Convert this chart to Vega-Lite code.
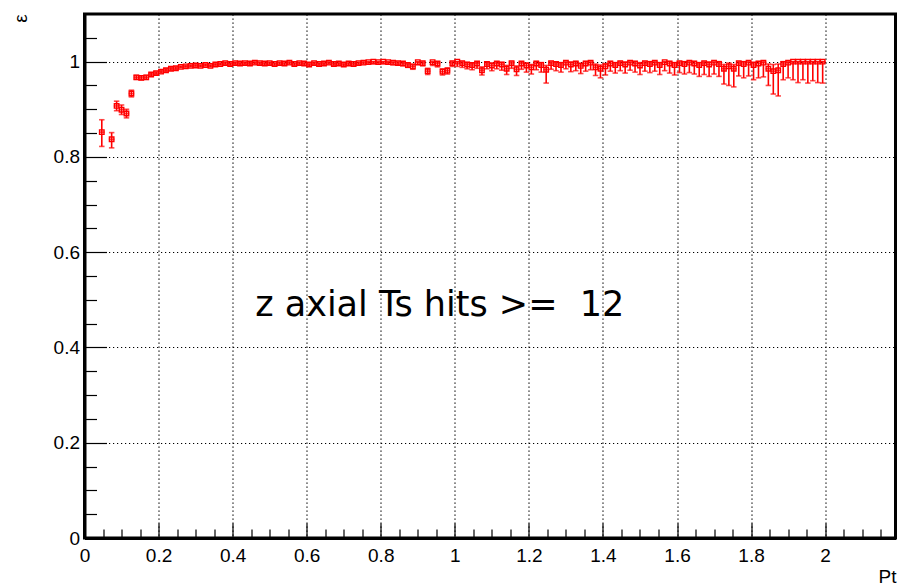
{
  "$schema": "https://vega.github.io/schema/vega-lite/v6.json",
  "width": 811,
  "height": 524,
  "autosize": {"type": "none"},
  "padding": {"left": 84.5, "top": 14, "right": 2.5, "bottom": 47},
  "background": "white",
  "config": {"view": {"stroke": "black", "strokeWidth": 3}, "font": "Liberation Sans"},
  "datasets": {
    "eff": [
      {"x":0.0467,"y":0.852,"lo":0.822,"hi":0.878},
      {"x":0.0733,"y":0.837,"lo":0.819,"hi":0.851},
      {"x":0.0867,"y":0.907,"lo":0.897,"hi":0.917},
      {"x":0.1,"y":0.899,"lo":0.889,"hi":0.909},
      {"x":0.1133,"y":0.891,"lo":0.882,"hi":0.9},
      {"x":0.1267,"y":0.933,"lo":0.926,"hi":0.94},
      {"x":0.14,"y":0.967,"lo":0.963,"hi":0.971},
      {"x":0.1533,"y":0.966,"lo":0.962,"hi":0.97},
      {"x":0.1667,"y":0.967,"lo":0.963,"hi":0.971},
      {"x":0.18,"y":0.973,"lo":0.97,"hi":0.976},
      {"x":0.1933,"y":0.976,"lo":0.973,"hi":0.979},
      {"x":0.2067,"y":0.979,"lo":0.976,"hi":0.982},
      {"x":0.22,"y":0.982,"lo":0.979,"hi":0.985},
      {"x":0.2333,"y":0.985,"lo":0.982,"hi":0.988},
      {"x":0.2467,"y":0.986,"lo":0.983,"hi":0.989},
      {"x":0.26,"y":0.989,"lo":0.987,"hi":0.991},
      {"x":0.2733,"y":0.99,"lo":0.988,"hi":0.992},
      {"x":0.2867,"y":0.991,"lo":0.989,"hi":0.993},
      {"x":0.3,"y":0.992,"lo":0.99,"hi":0.994},
      {"x":0.3133,"y":0.991,"lo":0.989,"hi":0.993},
      {"x":0.3267,"y":0.993,"lo":0.991,"hi":0.995},
      {"x":0.34,"y":0.991,"lo":0.989,"hi":0.993},
      {"x":0.3533,"y":0.994,"lo":0.992,"hi":0.996},
      {"x":0.3667,"y":0.995,"lo":0.993,"hi":0.997},
      {"x":0.38,"y":0.997,"lo":0.994,"hi":0.999},
      {"x":0.3933,"y":0.995,"lo":0.992,"hi":0.997},
      {"x":0.4067,"y":0.997,"lo":0.994,"hi":0.999},
      {"x":0.42,"y":0.996,"lo":0.993,"hi":0.998},
      {"x":0.4333,"y":0.997,"lo":0.994,"hi":0.999},
      {"x":0.4467,"y":0.996,"lo":0.993,"hi":0.998},
      {"x":0.46,"y":0.998,"lo":0.995,"hi":1},
      {"x":0.4733,"y":0.997,"lo":0.994,"hi":0.999},
      {"x":0.4867,"y":0.996,"lo":0.993,"hi":0.998},
      {"x":0.5,"y":0.997,"lo":0.994,"hi":0.999},
      {"x":0.5133,"y":0.995,"lo":0.992,"hi":0.997},
      {"x":0.5267,"y":0.997,"lo":0.994,"hi":0.999},
      {"x":0.54,"y":0.996,"lo":0.993,"hi":0.998},
      {"x":0.5533,"y":0.998,"lo":0.995,"hi":1},
      {"x":0.5667,"y":0.995,"lo":0.992,"hi":0.997},
      {"x":0.58,"y":0.997,"lo":0.994,"hi":0.999},
      {"x":0.5933,"y":0.996,"lo":0.993,"hi":0.998},
      {"x":0.6067,"y":0.994,"lo":0.991,"hi":0.996},
      {"x":0.62,"y":0.997,"lo":0.994,"hi":0.999},
      {"x":0.6333,"y":0.995,"lo":0.992,"hi":0.997},
      {"x":0.6467,"y":0.996,"lo":0.993,"hi":0.998},
      {"x":0.66,"y":0.998,"lo":0.995,"hi":1},
      {"x":0.6733,"y":0.995,"lo":0.992,"hi":0.997},
      {"x":0.6867,"y":0.996,"lo":0.993,"hi":0.998},
      {"x":0.7,"y":0.994,"lo":0.991,"hi":0.996},
      {"x":0.7133,"y":0.996,"lo":0.993,"hi":0.998},
      {"x":0.7267,"y":0.995,"lo":0.992,"hi":0.997},
      {"x":0.74,"y":0.997,"lo":0.994,"hi":0.999},
      {"x":0.7533,"y":0.998,"lo":0.995,"hi":1},
      {"x":0.7667,"y":0.999,"lo":0.996,"hi":1},
      {"x":0.78,"y":1,"lo":0.996,"hi":1},
      {"x":0.7933,"y":0.999,"lo":0.996,"hi":1},
      {"x":0.8067,"y":1,"lo":0.996,"hi":1},
      {"x":0.82,"y":0.999,"lo":0.995,"hi":1},
      {"x":0.8333,"y":0.998,"lo":0.994,"hi":1},
      {"x":0.8467,"y":0.997,"lo":0.993,"hi":1},
      {"x":0.86,"y":0.996,"lo":0.992,"hi":0.999},
      {"x":0.8733,"y":0.993,"lo":0.988,"hi":0.996},
      {"x":0.8867,"y":0.99,"lo":0.984,"hi":0.994},
      {"x":0.9,"y":0.999,"lo":0.993,"hi":1},
      {"x":0.9133,"y":0.997,"lo":0.991,"hi":1},
      {"x":0.9267,"y":0.98,"lo":0.973,"hi":0.986},
      {"x":0.94,"y":0.999,"lo":0.992,"hi":1},
      {"x":0.9533,"y":0.996,"lo":0.989,"hi":0.999},
      {"x":0.9667,"y":0.979,"lo":0.972,"hi":0.985},
      {"x":0.98,"y":0.981,"lo":0.974,"hi":0.987},
      {"x":0.9933,"y":0.997,"lo":0.99,"hi":1},
      {"x":1.0067,"y":1,"lo":0.99,"hi":1},
      {"x":1.02,"y":0.997,"lo":0.988,"hi":1},
      {"x":1.0333,"y":0.994,"lo":0.985,"hi":0.998},
      {"x":1.0467,"y":0.993,"lo":0.983,"hi":0.997},
      {"x":1.06,"y":0.996,"lo":0.986,"hi":0.999},
      {"x":1.0733,"y":0.982,"lo":0.972,"hi":0.989},
      {"x":1.0867,"y":0.995,"lo":0.985,"hi":0.999},
      {"x":1.1,"y":0.992,"lo":0.981,"hi":0.997},
      {"x":1.1133,"y":0.996,"lo":0.985,"hi":0.999},
      {"x":1.1267,"y":0.994,"lo":0.982,"hi":0.998},
      {"x":1.14,"y":0.985,"lo":0.973,"hi":0.992},
      {"x":1.1533,"y":0.997,"lo":0.986,"hi":1},
      {"x":1.1667,"y":0.984,"lo":0.971,"hi":0.991},
      {"x":1.18,"y":0.996,"lo":0.984,"hi":0.999},
      {"x":1.1933,"y":0.992,"lo":0.978,"hi":0.997},
      {"x":1.2067,"y":0.988,"lo":0.974,"hi":0.994},
      {"x":1.22,"y":0.996,"lo":0.983,"hi":1},
      {"x":1.2333,"y":0.993,"lo":0.978,"hi":0.998},
      {"x":1.2467,"y":0.983,"lo":0.955,"hi":0.992},
      {"x":1.26,"y":0.997,"lo":0.984,"hi":1},
      {"x":1.2733,"y":0.995,"lo":0.981,"hi":0.999},
      {"x":1.2867,"y":0.993,"lo":0.978,"hi":0.998},
      {"x":1.3,"y":0.998,"lo":0.985,"hi":1},
      {"x":1.3133,"y":0.994,"lo":0.979,"hi":0.999},
      {"x":1.3267,"y":0.996,"lo":0.981,"hi":1},
      {"x":1.34,"y":0.991,"lo":0.975,"hi":0.997},
      {"x":1.3533,"y":0.996,"lo":0.98,"hi":1},
      {"x":1.3667,"y":0.998,"lo":0.983,"hi":1},
      {"x":1.38,"y":0.988,"lo":0.971,"hi":0.995},
      {"x":1.3933,"y":0.985,"lo":0.966,"hi":0.993},
      {"x":1.4067,"y":0.99,"lo":0.972,"hi":0.996},
      {"x":1.42,"y":0.996,"lo":0.98,"hi":1},
      {"x":1.4333,"y":0.993,"lo":0.976,"hi":0.998},
      {"x":1.4467,"y":0.997,"lo":0.981,"hi":1},
      {"x":1.46,"y":0.994,"lo":0.976,"hi":0.999},
      {"x":1.4733,"y":0.998,"lo":0.982,"hi":1},
      {"x":1.4867,"y":0.996,"lo":0.978,"hi":1},
      {"x":1.5,"y":0.992,"lo":0.973,"hi":0.998},
      {"x":1.5133,"y":0.997,"lo":0.98,"hi":1},
      {"x":1.5267,"y":0.995,"lo":0.977,"hi":1},
      {"x":1.54,"y":0.998,"lo":0.98,"hi":1},
      {"x":1.5533,"y":0.993,"lo":0.973,"hi":0.998},
      {"x":1.5667,"y":0.999,"lo":0.981,"hi":1},
      {"x":1.58,"y":0.996,"lo":0.976,"hi":1},
      {"x":1.5933,"y":0.993,"lo":0.972,"hi":0.998},
      {"x":1.6067,"y":0.997,"lo":0.977,"hi":1},
      {"x":1.62,"y":0.995,"lo":0.974,"hi":1},
      {"x":1.6333,"y":0.998,"lo":0.977,"hi":1},
      {"x":1.6467,"y":0.996,"lo":0.974,"hi":1},
      {"x":1.66,"y":0.993,"lo":0.969,"hi":0.998},
      {"x":1.6733,"y":0.997,"lo":0.973,"hi":1},
      {"x":1.6867,"y":0.994,"lo":0.969,"hi":0.999},
      {"x":1.7,"y":0.998,"lo":0.974,"hi":1},
      {"x":1.7133,"y":0.995,"lo":0.969,"hi":1},
      {"x":1.7267,"y":0.985,"lo":0.953,"hi":0.994},
      {"x":1.74,"y":0.99,"lo":0.95,"hi":0.997},
      {"x":1.7533,"y":0.985,"lo":0.947,"hi":0.994},
      {"x":1.7667,"y":0.997,"lo":0.97,"hi":1},
      {"x":1.78,"y":0.995,"lo":0.966,"hi":1},
      {"x":1.7933,"y":0.998,"lo":0.97,"hi":1},
      {"x":1.8067,"y":0.993,"lo":0.962,"hi":0.999},
      {"x":1.82,"y":0.996,"lo":0.966,"hi":1},
      {"x":1.8333,"y":0.998,"lo":0.968,"hi":1},
      {"x":1.8467,"y":0.985,"lo":0.95,"hi":0.995},
      {"x":1.86,"y":0.98,"lo":0.932,"hi":0.994},
      {"x":1.8733,"y":0.982,"lo":0.928,"hi":0.995},
      {"x":1.8867,"y":0.995,"lo":0.962,"hi":1},
      {"x":1.9,"y":0.998,"lo":0.966,"hi":1},
      {"x":1.9133,"y":1,"lo":0.962,"hi":1},
      {"x":1.9267,"y":1,"lo":0.956,"hi":1},
      {"x":1.94,"y":1,"lo":0.962,"hi":1},
      {"x":1.9533,"y":1,"lo":0.955,"hi":1},
      {"x":1.9667,"y":1,"lo":0.96,"hi":1},
      {"x":1.98,"y":1,"lo":0.956,"hi":1},
      {"x":1.9933,"y":1,"lo":0.955,"hi":1}
    ]
  },
  "layer": [
    {
      "data": {"name": "eff"},
      "mark": {"type": "point", "opacity": 0},
      "encoding": {
        "x": {"field": "x", "type": "quantitative", "scale": {"domain": [0, 2.19], "nice": false, "zero": false},
          "axis": {"orient": "bottom", "values": [0.05,0.1,0.15,0.25,0.3,0.35,0.45,0.5,0.55,0.65,0.7,0.75,0.85,0.9,0.95,1.05,1.1,1.15,1.25,1.3,1.35,1.45,1.5,1.55,1.65,1.7,1.75,1.85,1.9,1.95,2.05,2.1,2.15],
            "domain": false, "labels": false, "grid": false, "ticks": true, "tickSize": -9, "tickWidth": 1.2, "tickColor": "black", "title": null}},
        "y": {"field": "y", "type": "quantitative", "scale": {"domain": [0, 1.1], "nice": false, "zero": false},
          "axis": {"orient": "left", "values": [0.05,0.1,0.15,0.25,0.3,0.35,0.45,0.5,0.55,0.65,0.7,0.75,0.85,0.9,0.95,1.05],
            "domain": false, "labels": false, "grid": false, "ticks": true, "tickSize": -12, "tickWidth": 1.2, "tickColor": "black", "title": null}}
      }
    },
    {
      "data": {"name": "eff"},
      "mark": {"type": "rule", "color": "#ff0000", "strokeWidth": 1.6},
      "encoding": {
        "x": {"field": "x", "type": "quantitative",
          "axis": {"orient": "bottom", "values": [0,0.2,0.4,0.6,0.8,1,1.2,1.4,1.6,1.8,2], "format": ".1~f",
            "domain": true, "domainWidth": 3, "domainColor": "black",
            "grid": true, "gridDash": [1.2, 2.8], "gridColor": "black", "gridWidth": 1.2, "gridOpacity": 1,
            "tickSize": -15, "tickWidth": 1.2, "tickColor": "black",
            "labelPadding": 23.5, "labelFontSize": 19, "labelFont": "Liberation Sans", "labelColor": "black", "labelFlush": false, "labelOverlap": false, "labelBaseline": "top",
            "title": "Pt", "titleFont": "Liberation Sans", "titleFontSize": 19, "titleFontWeight": "normal", "titleColor": "black",
            "titleAlign": "right", "titleBaseline": "top", "titleAnchor": "end", "titleX": 811.5, "titleY": 29}},
        "y": {"field": "lo", "type": "quantitative",
          "axis": {"orient": "left", "values": [0,0.2,0.4,0.6,0.8,1], "format": ".1~f",
            "domain": true, "domainWidth": 3, "domainColor": "black",
            "grid": true, "gridDash": [1.2, 2.8], "gridColor": "black", "gridWidth": 1.2, "gridOpacity": 1,
            "tickSize": -22, "tickWidth": 1.2, "tickColor": "black",
            "labelPadding": 27, "labelFontSize": 19, "labelFont": "Liberation Sans", "labelColor": "black", "labelFlush": false, "labelOverlap": false,
            "title": "ε", "titleFont": "Liberation Sans", "titleFontSize": 19, "titleFontWeight": "normal", "titleColor": "black",
            "titleAngle": -90, "titleAlign": "center", "titleBaseline": "middle", "titleX": -64.5, "titleY": 4}},
        "y2": {"field": "hi"}
      }
    },
    {
      "data": {"name": "eff"},
      "mark": {"type": "tick", "orient": "horizontal", "color": "#ff0000", "size": 5.5, "thickness": 1.6},
      "encoding": {
        "x": {"field": "x", "type": "quantitative", "axis": null},
        "y": {"field": "y", "type": "quantitative", "axis": null}
      }
    },
    {
      "data": {"name": "eff"},
      "mark": {"type": "tick", "orient": "horizontal", "color": "#ff0000", "size": 5.5, "thickness": 1.6},
      "encoding": {
        "x": {"field": "x", "type": "quantitative", "axis": null},
        "y": {"field": "lo", "type": "quantitative", "axis": null}
      }
    },
    {
      "data": {"name": "eff"},
      "mark": {"type": "tick", "orient": "horizontal", "color": "#ff0000", "size": 5.5, "thickness": 1.6},
      "encoding": {
        "x": {"field": "x", "type": "quantitative", "axis": null},
        "y": {"field": "hi", "type": "quantitative", "axis": null}
      }
    },
    {
      "data": {"name": "eff"},
      "mark": {"type": "point", "shape": "square", "size": 20, "filled": false, "stroke": "#ff0000", "strokeWidth": 1.4, "opacity": 1},
      "encoding": {
        "x": {"field": "x", "type": "quantitative", "axis": null},
        "y": {"field": "y", "type": "quantitative", "axis": null}
      }
    },
    {
      "data": {"values": [{}]},
      "mark": {"type": "text", "font": "DejaVu Sans", "fontSize": 35, "color": "black", "align": "left", "baseline": "alphabetic"},
      "encoding": {
        "x": {"datum": 0.461, "type": "quantitative", "axis": null},
        "y": {"datum": 0.467, "type": "quantitative", "axis": null},
        "text": {"value": "z axial Ts hits >= \u00a012"}
      }
    }
  ],
  "resolve": {"axis": {"x": "independent", "y": "independent"}}
}
